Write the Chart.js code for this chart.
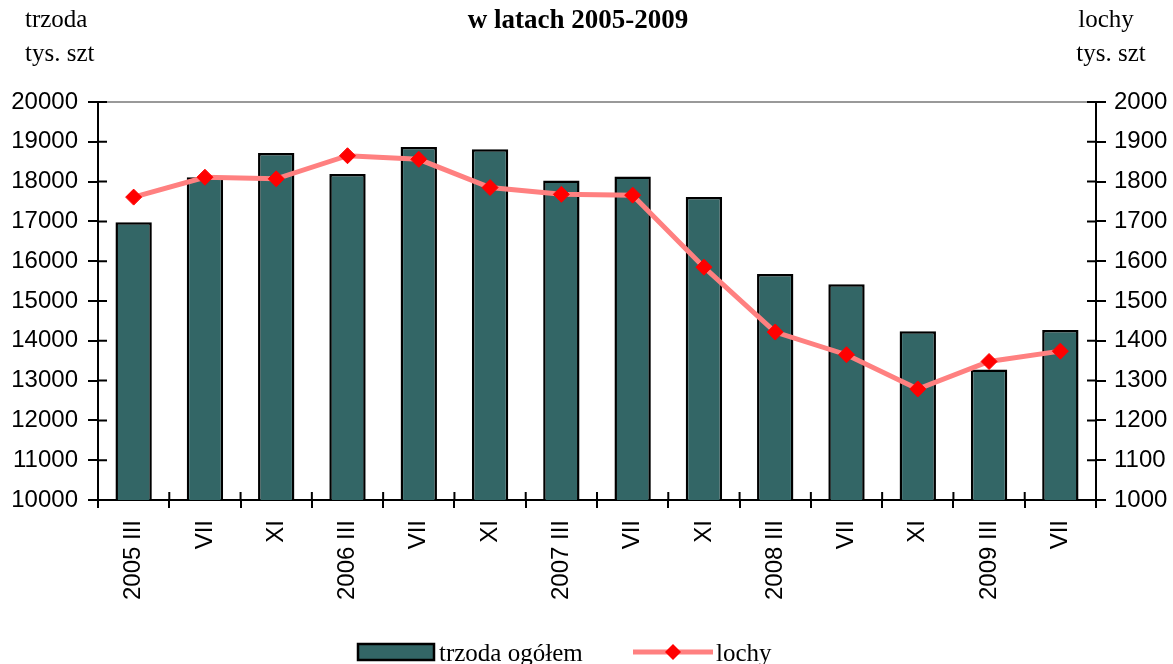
<!DOCTYPE html>
<html lang="pl">
<head>
<meta charset="UTF-8">
<title>trzoda i lochy 2005-2009</title>
<script src="https://cdn.jsdelivr.net/npm/chart.js"></script>
<style>
  html, body { margin: 0; padding: 0; background: #fff; }
  #wrap { width: 1173px; height: 664px; position: relative; }
</style>
</head>
<body>
<div id="wrap"><canvas id="chart"></canvas></div>
<script>
// dane
const okresy = ["2005 III", "VII", "XI", "2006 III", "VII", "XI", "2007 III", "VII", "XI", "2008 III", "VII", "XI", "2009 III", "VII"];
const trzoda = [16980, 18110, 18720, 18190, 18870, 18810, 18030, 18130, 17610, 15680, 15420, 14240, 13280, 14270];
const lochy = [1761, 1811, 1807, 1865, 1856, 1785, 1768, 1766, 1585, 1422, 1365, 1279, 1348, 1374];
const ticksLewa = [10000, 20000, 1000];   // min, max, krok
const ticksPrawa = [1000, 2000, 100];

const serif = "'Liberation Serif', 'Times New Roman', serif";
const sans = "'Liberation Sans', Arial, sans-serif";

// napisy, wewnetrzne kreski podzialki, legenda
const extras = {
  id: 'extras',
  afterDraw(chart) {
    const c = chart.ctx, a = chart.chartArea;
    const yl = chart.scales.y, yr = chart.scales.y1;
    c.save();
    // szara linia u gory
    c.strokeStyle = '#999';
    c.lineWidth = 2;
    c.beginPath(); c.moveTo(a.left, a.top); c.lineTo(a.right, a.top); c.stroke();
    // kreski do srodka
    c.strokeStyle = '#000';
    c.lineWidth = 2;
    c.beginPath();
    yl.ticks.forEach((t, i) => {
      const py = yl.getPixelForTick(i);
      c.moveTo(a.left, py); c.lineTo(a.left + 9, py);
    });
    yr.ticks.forEach((t, i) => {
      const py = yr.getPixelForTick(i);
      c.moveTo(a.right, py); c.lineTo(a.right - 9, py);
    });
    for (let i = 1; i < okresy.length; i++) {
      const px = a.left + (a.right - a.left) * i / okresy.length;
      c.moveTo(px, a.bottom); c.lineTo(px, a.bottom - 8);
    }
    c.stroke();

    // tytuly osi i wykresu
    c.fillStyle = '#000';
    c.textBaseline = 'middle';
    c.font = '25px ' + serif;
    c.textAlign = 'left';
    c.fillText('trzoda', 25, 20);
    c.fillText('tys. szt', 25, 54);
    c.textAlign = 'center';
    c.fillText('lochy', 1106, 20);
    c.fillText('tys. szt', 1111, 54);
    c.font = 'bold 27px ' + serif;
    c.fillText('w latach 2005-2009', 578, 21);

    // legenda
    const ly = 652;
    c.fillStyle = '#336666';
    c.fillRect(358, ly - 8, 76, 16);
    c.strokeStyle = '#000';
    c.lineWidth = 2.5;
    c.strokeRect(358, ly - 8, 76, 16);
    c.fillStyle = '#000';
    c.textAlign = 'left';
    c.font = '25px ' + serif;
    c.fillText('trzoda ogółem', 439, ly + 2);
    c.strokeStyle = '#FF8080';
    c.lineWidth = 5;
    c.beginPath(); c.moveTo(633, ly); c.lineTo(713, ly); c.stroke();
    c.fillStyle = '#FF0000';
    c.beginPath();
    c.moveTo(673, ly - 8); c.lineTo(681, ly); c.lineTo(673, ly + 8); c.lineTo(665, ly);
    c.closePath(); c.fill();
    c.fillStyle = '#000';
    c.fillText('lochy', 716, ly + 2);
    c.restore();
  }
};

const ctx = document.getElementById('chart').getContext('2d');
new Chart(ctx, {
  data: {
    labels: okresy,
    datasets: [
      {
        type: 'line',
        label: 'lochy',
        data: lochy,
        yAxisID: 'y1',
        borderColor: '#FF8080',
        borderWidth: 5,
        pointStyle: 'rectRot',
        pointRadius: 8,
        pointBackgroundColor: '#FF0000',
        pointBorderColor: '#FF0000',
        pointBorderWidth: 1,
        tension: 0,
        order: 0
      },
      {
        type: 'bar',
        label: 'trzoda ogółem',
        data: trzoda,
        yAxisID: 'y',
        backgroundColor: '#336666',
        borderColor: '#000',
        borderWidth: 2.5,
        barPercentage: 0.51,
        categoryPercentage: 1,
        order: 1
      }
    ]
  },
  options: {
    responsive: true,
    maintainAspectRatio: false,
    animation: false,
    layout: { padding: { top: 102, bottom: 0, left: 0, right: 0 } },
    plugins: {
      legend: { display: false },
      title: { display: false },
      tooltip: { enabled: false }
    },
    scales: {
      x: {
        offset: true,
        grid: { offset: true, drawOnChartArea: false, tickLength: 8, color: '#000', lineWidth: 2 },
        border: { color: '#000', width: 2 },
        ticks: {
          autoSkip: false, maxRotation: 90, minRotation: 90, padding: 12,
          color: '#000', font: { family: sans, size: 24 }
        },
        afterFit: s => { s.height = 164; }
      },
      y: {
        position: 'left',
        min: ticksLewa[0], max: ticksLewa[1],
        grid: { drawOnChartArea: false, tickLength: 10, color: '#000', lineWidth: 2 },
        border: { color: '#000', width: 2 },
        ticks: {
          stepSize: ticksLewa[2], padding: 10, color: '#000',
          font: { family: sans, size: 24 }, callback: v => String(v)
        },
        afterFit: s => { s.width = 98; }
      },
      y1: {
        position: 'right',
        min: ticksPrawa[0], max: ticksPrawa[1],
        grid: { drawOnChartArea: false, tickLength: 10, color: '#000', lineWidth: 2 },
        border: { color: '#000', width: 2 },
        ticks: {
          stepSize: ticksPrawa[2], padding: 8, color: '#000',
          font: { family: sans, size: 24 }, callback: v => String(v)
        },
        afterFit: s => { s.width = 77; }
      }
    }
  },
  plugins: [extras]
});
</script>
</body>
</html>
